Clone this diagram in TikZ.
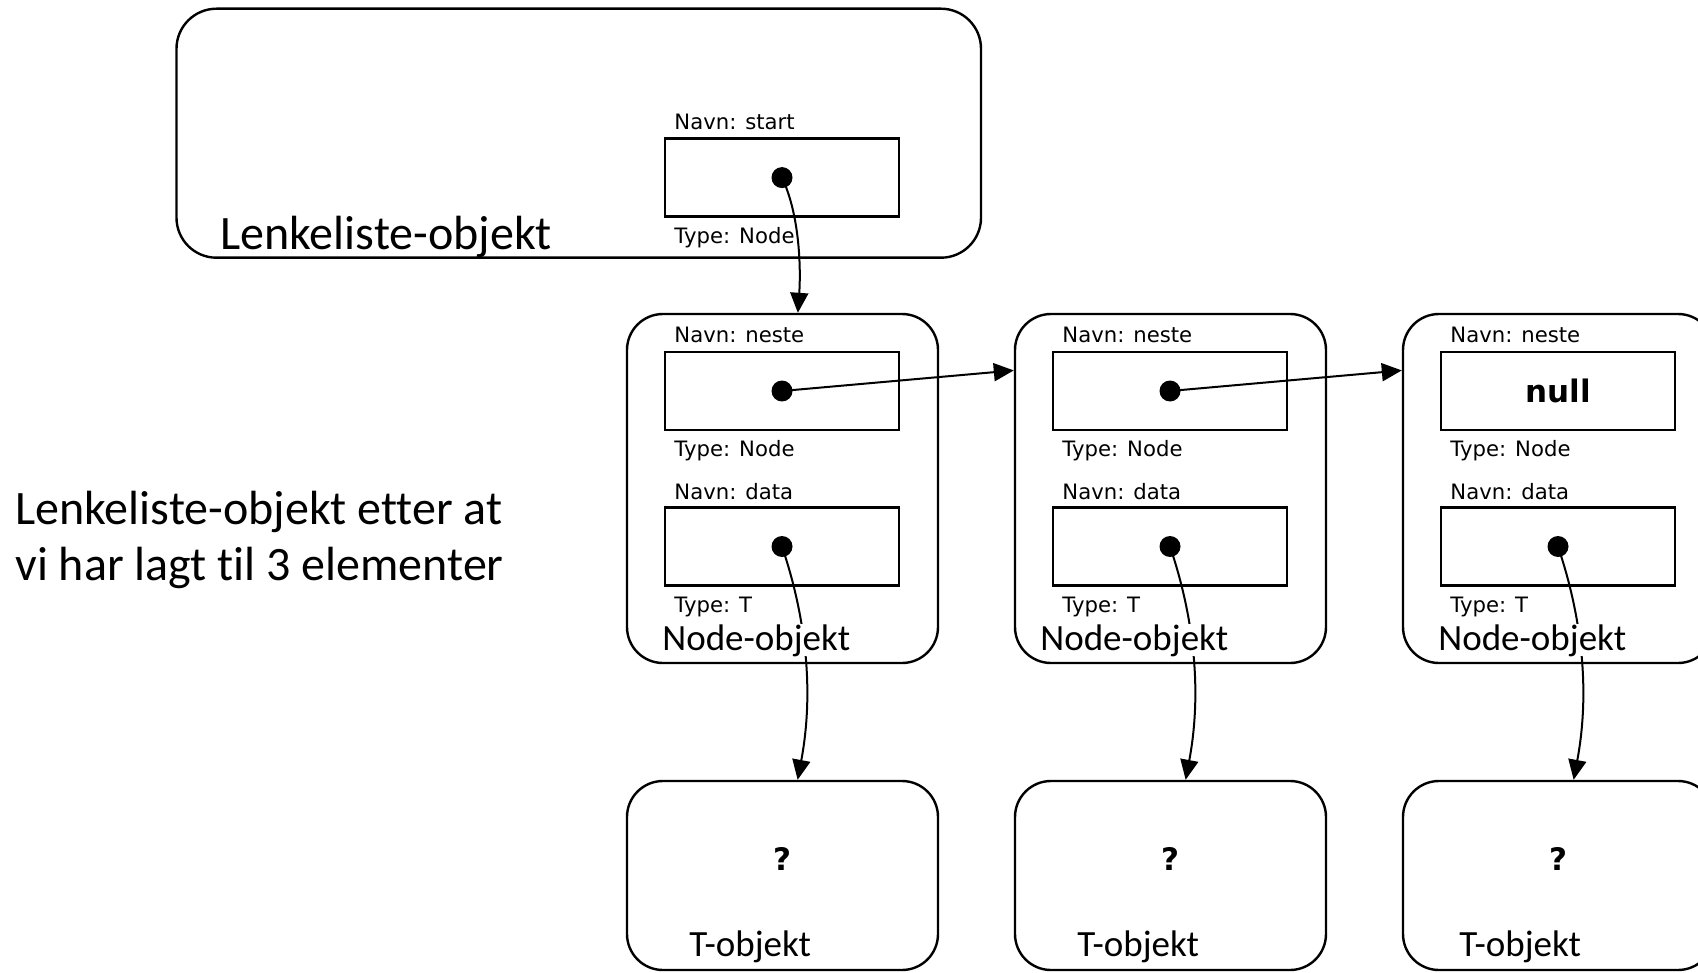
\documentclass[tikz,border=0pt]{standalone}
\usepackage{fontspec}
\setmainfont[Ligatures=NoCommon]{Carlito}
\newfontfamily\djv{DejaVu Sans}
\usetikzlibrary{arrows.meta}
\begin{document}
\begin{tikzpicture}[x=0.5pt,y=-0.5pt,
  obj/.style={draw, line width=1.2pt, rounded corners=18pt, minimum width=155.5pt, inner sep=0pt},
  field/.style={draw, line width=1.3pt, minimum width=117pt, minimum height=39pt, inner sep=0pt},
  boldtxt/.style={inner sep=0pt, font=\djv\bfseries\fontsize{15.5}{18}\selectfont},
  lbl/.style={anchor=base west, inner sep=0pt, font=\djv\fontsize{10.6}{12}\selectfont},
  big/.style={anchor=base west, inner sep=0pt, font=\fontsize{18.5}{22}\selectfont},
  huge/.style={anchor=base west, inner sep=0pt, font=\fontsize{24}{28}\selectfont},
  dot/.style={circle, fill, inner sep=0pt, minimum size=10.5pt},
  ptr/.style={line width=1pt, -{Triangle[length=10pt,width=9pt]}},
]
\useasboundingbox (0,0) rectangle (1698,973);

% Lenkeliste object
\node[obj, minimum width=402.25pt, minimum height=124.5pt, rounded corners=20pt] (L) at (578.75,133.2) {};
\node[field] (st) at (782,177.6) {};
\node[lbl] (ls) at (674,130) {Navn: start};
\node[lbl] (ts) at (674,243.6) {Type: Node};
\node[dot] (ds) at (st.center) {};
\node[huge] (lt) at (220,250) {Lenkeliste-objekt};

% description
\node[huge] (desc1) at (15,524) {Lenkeliste-objekt etter at};
\node[huge] (desc2) at (15,580) {vi har lagt til 3 elementer};

\foreach \i/\dx/\nx/\tx in {1/0/662/689,2/388/1040/1077,3/776/1438/1459}{
  \node[obj, minimum height=174.5pt] (N\i) at (782.5+\dx,488.5) {};
  \node[field] (nx\i) at (782+\dx,391) {};
  \node[field] (da\i) at (782+\dx,546.5) {};
  \node[lbl] (ln\i) at (674+\dx,343) {Navn: neste};
  \node[lbl] (tn\i) at (674+\dx,456) {Type: Node};
  \node[lbl] (ld\i) at (674+\dx,499) {Navn: data};
  \node[lbl] (td\i) at (674+\dx,612) {Type: T};
  \node[dot] (dd\i) at (da\i.center) {};
  \node[obj, minimum height=94.5pt] (T\i) at (782.5+\dx,875.5) {};
  \node[boldtxt] (q\i) at (782+\dx,859) {?};
  \draw[ptr] (dd\i.center) .. controls +(23,68) and +(17,-91) .. (T\i.81);
  \node[big, fill=white] (no\i) at (\nx,650) {Node-objekt};
  \node[big] (to\i) at (\tx,956) {T-objekt};
}
\node[boldtxt] (nul) at (nx3.center) {null};

\foreach \i/\j in {1/2,2/3}{
  \node[dot] (dn\i) at (nx\i.center) {};
  \draw[ptr] (dn\i.center) -- (N\j.143);
}

\draw[ptr] (ds.center) .. controls +(18,38) and +(3,-43) .. (N1.85);
\end{tikzpicture}
\end{document}
